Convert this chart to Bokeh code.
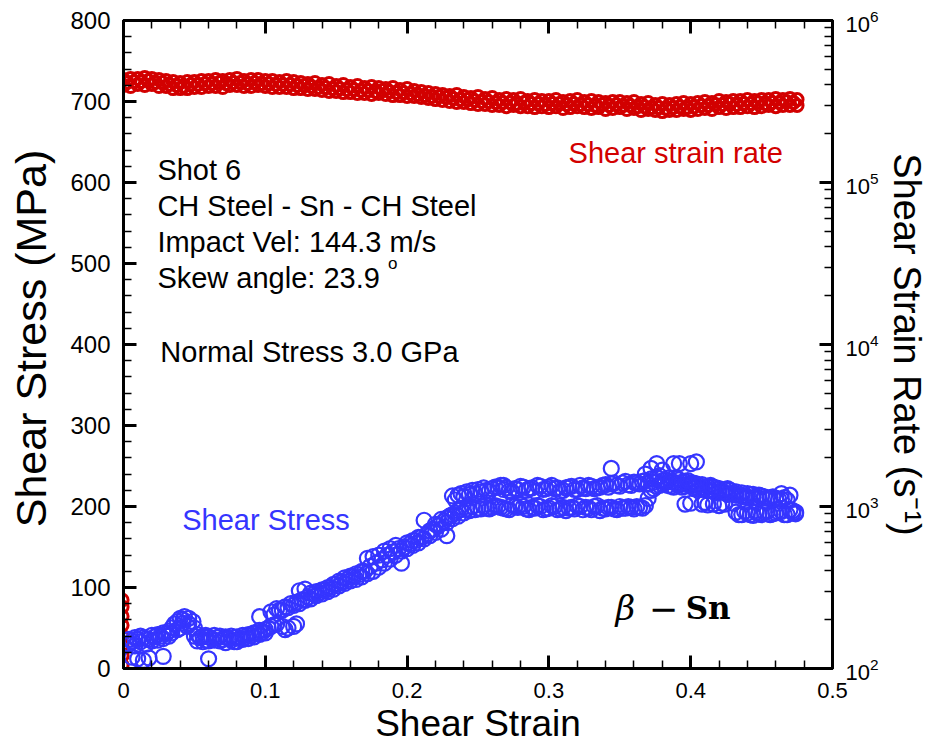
import math
from bokeh.plotting import figure
from bokeh.models import (Range1d, LogScale, LinearAxis, LogAxis, SingleIntervalTicker,
                          LogTicker, Label, CustomJSTickFormatter)
from bokeh.embed import file_html
from bokeh.resources import INLINE

# ---------------- data ----------------
# Shear stress (MPa) vs shear strain (blue circles)
SS_STRAIN = [
    0.004, 0.004, 0.008, 0.008, 0.012, 0.012, 0.016, 0.016, 0.020, 0.020,
    0.024, 0.024, 0.028, 0.028, 0.032, 0.032,
    0.006, 0.010, 0.014, 0.018, 0.028, 0.060,
    0.036, 0.040, 0.043, 0.046, 0.049, 0.040, 0.045,
    0.052, 0.052, 0.056, 0.056, 0.060, 0.060, 0.064, 0.064, 0.068, 0.068,
    0.072, 0.072, 0.076, 0.076, 0.080, 0.080, 0.084, 0.084, 0.088, 0.088,
    0.092, 0.092, 0.096, 0.096, 0.100, 0.100, 0.096,
    0.104, 0.104, 0.108, 0.108, 0.112, 0.112, 0.116, 0.116, 0.120, 0.120,
    0.124, 0.124, 0.128, 0.128, 0.132, 0.132, 0.136, 0.136, 0.140, 0.140,
    0.144, 0.144, 0.148, 0.148, 0.152, 0.152, 0.156, 0.156, 0.160, 0.160,
    0.164, 0.164, 0.168, 0.168, 0.172, 0.172, 0.176, 0.176, 0.180, 0.180,
    0.184, 0.184, 0.188, 0.188, 0.192, 0.192, 0.196, 0.196, 0.200, 0.200,
    0.204, 0.204, 0.208, 0.208, 0.212, 0.212, 0.216, 0.216, 0.220, 0.220,
    0.224, 0.224, 0.228, 0.228, 0.228, 0.232, 0.232, 0.232, 0.236, 0.236, 0.236,
    0.240, 0.240, 0.244, 0.244, 0.248, 0.248, 0.252, 0.252, 0.256, 0.256,
    0.260, 0.260, 0.264, 0.264, 0.268, 0.268, 0.268, 0.272, 0.272, 0.276, 0.276,
    0.280, 0.280, 0.284, 0.284, 0.288, 0.288, 0.292, 0.292, 0.296, 0.296,
    0.300, 0.300, 0.304, 0.304, 0.308, 0.308, 0.312, 0.312, 0.316, 0.316,
    0.320, 0.320, 0.324, 0.324, 0.328, 0.328, 0.332, 0.332, 0.336, 0.336,
    0.340, 0.340, 0.344, 0.344, 0.344, 0.348, 0.348, 0.352, 0.352, 0.356, 0.356,
    0.360, 0.360, 0.364, 0.364, 0.368, 0.368, 0.368, 0.372, 0.372, 0.372,
    0.376, 0.376, 0.376, 0.380, 0.380, 0.380, 0.384, 0.384, 0.388, 0.388, 0.388,
    0.392, 0.392, 0.392, 0.396, 0.396, 0.396, 0.400, 0.400, 0.400, 0.400,
    0.404, 0.404, 0.404, 0.408, 0.408, 0.408, 0.412, 0.412, 0.412,
    0.416, 0.416, 0.416, 0.420, 0.420, 0.420, 0.424, 0.424, 0.424, 0.428, 0.428,
    0.432, 0.432, 0.432, 0.436, 0.436, 0.436, 0.440, 0.440, 0.440,
    0.444, 0.444, 0.444, 0.448, 0.448, 0.448, 0.452, 0.452, 0.456, 0.456,
    0.460, 0.460, 0.464, 0.464, 0.464, 0.468, 0.468, 0.472, 0.472,
]
SS_STRESS = [
    36, 30, 38, 28, 40, 33, 37, 30, 41, 34,
    42, 35, 44, 37, 46, 40,
    14, 12, 10, 13, 15, 12,
    55, 62, 64, 62, 58, 50, 52,
    42, 34, 40, 33, 39, 34, 41, 35, 40, 34,
    39, 32, 40, 35, 39, 33, 41, 36, 42, 37,
    44, 39, 47, 42, 48, 44, 64,
    52, 70, 55, 74, 72, 52, 75, 50, 78, 52,
    80, 96, 84, 98, 86, 93, 90, 95, 92, 97,
    95, 100, 98, 104, 102, 108, 105, 112, 108, 114,
    110, 117, 113, 120, 117, 136, 120, 138, 125, 140,
    130, 145, 135, 148, 140, 152, 145, 130, 148, 155,
    152, 158, 155, 162, 160, 183, 164, 170, 168, 178,
    172, 184, 180, 186, 164, 185, 190, 213, 188, 195, 214,
    192, 212, 195, 215, 196, 216, 197, 218, 198, 220,
    199, 222, 200, 224, 198, 221, 226, 196, 219, 200, 222,
    202, 225, 197, 220, 199, 223, 201, 226, 196, 221,
    198, 224, 200, 222, 197, 219, 195, 223, 199, 225,
    201, 221, 196, 223, 198, 226, 200, 222, 195, 224,
    197, 227, 199, 228, 247, 196, 226, 198, 229, 200, 227,
    197, 230, 199, 228, 201, 232, 240, 220, 234, 247,
    225, 236, 253, 228, 232, 245, 226, 235, 224, 230, 253,
    227, 233, 253, 225, 231, 203, 226, 229, 253, 204,
    224, 228, 255, 222, 227, 203, 220, 225, 202,
    219, 224, 203, 218, 222, 201, 217, 221, 203, 216, 220,
    214, 218, 193, 213, 217, 190, 212, 216, 192,
    211, 215, 189, 210, 214, 191, 212, 193, 211, 190,
    210, 192, 209, 216, 194, 208, 190, 195, 192,
]
# second pass of shear-stress readings (between the first ones), rise part
SS2_STRAIN = [
    0.006, 0.010, 0.014, 0.018, 0.022, 0.026, 0.030,
    0.034, 0.034, 0.038, 0.038, 0.042, 0.042, 0.046, 0.050, 0.050,
    0.054, 0.058, 0.058, 0.062, 0.066, 0.070, 0.074, 0.078, 0.078,
    0.082, 0.086, 0.090, 0.094, 0.098, 0.102, 0.106, 0.106, 0.110,
    0.114, 0.114, 0.118, 0.122, 0.122, 0.126, 0.130, 0.134, 0.138,
    0.142, 0.146, 0.150, 0.154, 0.158, 0.162, 0.166, 0.170, 0.174,
    0.178, 0.182, 0.186, 0.190, 0.194, 0.198, 0.202, 0.206, 0.210,
    0.214, 0.218, 0.222, 0.226, 0.230,
]
SS2_STRESS = [
    34, 36, 38, 36, 39, 40, 43,
    50, 44, 58, 48, 60, 56, 55, 50, 40,
    38, 41, 35, 37, 38, 36, 37, 38, 33,
    37, 39, 41, 43, 45, 50, 66, 54, 72,
    76, 48, 80, 82, 55, 85, 88, 92, 94,
    97, 100, 104, 107, 110, 113, 116, 120, 126,
    130, 134, 140, 144, 148, 150, 154, 158, 162,
    166, 172, 176, 182, 188,
]
# second pass, plateau part: two readings per strain
SS3_STRAIN = [
    0.234, 0.238, 0.242, 0.246, 0.250, 0.254, 0.258, 0.262, 0.266, 0.270,
    0.274, 0.278, 0.282, 0.286, 0.290, 0.294, 0.298, 0.302, 0.306, 0.310,
    0.314, 0.318, 0.322, 0.326, 0.330, 0.334, 0.338, 0.342, 0.346, 0.350,
    0.354, 0.358, 0.362, 0.366, 0.370, 0.374, 0.378, 0.382, 0.386, 0.390,
    0.394, 0.398, 0.402, 0.406, 0.410, 0.414, 0.418, 0.422, 0.426, 0.430,
    0.434, 0.438, 0.442, 0.446, 0.450, 0.454, 0.458, 0.462, 0.466, 0.470,
    0.474,
]
SS3_STRESS_A = [
    192, 196, 197, 200, 198, 200, 197, 201, 199, 197,
    202, 199, 200, 196, 198, 200, 197, 201, 196, 199,
    198, 197, 200, 199, 196, 201, 198, 199, 197, 200,
    198, 199, 200, 198, 210, 222, 226, 229, 225, 228,
    224, 227, 223, 221, 223, 220, 217, 219, 215, 217,
    214, 212, 215, 211, 213, 210, 212, 209, 211, 214,
    193,
]
SS3_STRESS_B = [
    208, 216, 218, 220, 221, 223, 219, 224, 226, 223,
    218, 221, 224, 222, 219, 225, 222, 226, 223, 220,
    224, 221, 226, 222, 225, 223, 226, 224, 229, 225,
    231, 226, 229, 231, 228, 230, 238, 233, 231, 234,
    230, 232, 229, 226, 205, 226, 223, 204, 222, 204,
    190, 194, 190, 193, 190, 194, 191, 193, 190, 196,
    191,
]

# Shear strain rate (units of 1e5 s^-1) vs shear strain (red circles, right log axis)
SR_STRAIN = [
    0.000, 0.005, 0.010, 0.015, 0.020, 0.025, 0.030, 0.035, 0.040, 0.045,
    0.050, 0.055, 0.060, 0.065, 0.070, 0.075, 0.080, 0.085, 0.090, 0.095,
    0.100, 0.105, 0.110, 0.115, 0.120, 0.125, 0.130, 0.135, 0.140, 0.145,
    0.150, 0.155, 0.160, 0.165, 0.170, 0.175, 0.180, 0.185, 0.190, 0.195,
    0.200, 0.205, 0.210, 0.215, 0.220, 0.225, 0.230, 0.235, 0.240, 0.245,
    0.250, 0.255, 0.260, 0.265, 0.270, 0.275, 0.280, 0.285, 0.290, 0.295,
    0.300, 0.305, 0.310, 0.315, 0.320, 0.325, 0.330, 0.335, 0.340, 0.345,
    0.350, 0.355, 0.360, 0.365, 0.370, 0.375, 0.380, 0.385, 0.390, 0.395,
    0.400, 0.405, 0.410, 0.415, 0.420, 0.425, 0.430, 0.435, 0.440, 0.445,
    0.450, 0.455, 0.460, 0.465, 0.470, 0.475,
]
SR_UPPER_E5 = [
    4.32, 4.39, 4.39, 4.45, 4.39, 4.32, 4.26, 4.20, 4.14, 4.20,
    4.20, 4.26, 4.26, 4.32, 4.26, 4.32, 4.39, 4.26, 4.32, 4.32,
    4.26, 4.26, 4.20, 4.26, 4.20, 4.14, 4.08, 4.14, 4.03, 4.08,
    3.97, 4.03, 3.91, 3.97, 3.86, 3.91, 3.86, 3.80, 3.86, 3.75,
    3.80, 3.70, 3.65, 3.59, 3.54, 3.49, 3.44, 3.49, 3.40, 3.35,
    3.40, 3.30, 3.35, 3.25, 3.30, 3.25, 3.30, 3.21, 3.25, 3.21,
    3.21, 3.25, 3.16, 3.21, 3.25, 3.16, 3.21, 3.16, 3.12, 3.16,
    3.16, 3.12, 3.16, 3.07, 3.12, 3.03, 3.07, 3.03, 3.07, 3.12,
    3.07, 3.12, 3.16, 3.12, 3.21, 3.16, 3.21, 3.21, 3.25, 3.21,
    3.25, 3.25, 3.30, 3.25, 3.30, 3.25,
]
SR_LOWER_E5 = [
    3.97, 3.91, 4.03, 3.97, 4.03, 3.91, 3.91, 3.80, 3.80, 3.80,
    3.86, 3.86, 3.91, 3.91, 3.86, 3.97, 3.97, 3.91, 3.91, 3.97,
    3.91, 3.86, 3.86, 3.86, 3.80, 3.80, 3.75, 3.75, 3.70, 3.65,
    3.65, 3.59, 3.59, 3.54, 3.54, 3.49, 3.54, 3.49, 3.44, 3.44,
    3.40, 3.40, 3.35, 3.30, 3.25, 3.21, 3.16, 3.12, 3.12, 3.07,
    3.03, 3.03, 2.99, 2.99, 2.94, 2.99, 2.94, 2.94, 2.90, 2.94,
    2.90, 2.94, 2.86, 2.90, 2.94, 2.90, 2.86, 2.90, 2.82, 2.86,
    2.90, 2.82, 2.86, 2.78, 2.82, 2.78, 2.74, 2.78, 2.78, 2.82,
    2.78, 2.82, 2.86, 2.82, 2.90, 2.86, 2.90, 2.90, 2.94, 2.90,
    2.94, 2.99, 2.94, 2.99, 2.99, 2.99,
]
SR_MID_STRAIN = [
    0.0025, 0.0075, 0.0125, 0.0175, 0.0225, 0.0275, 0.0325, 0.0375, 0.0425, 0.0475,
    0.0525, 0.0575, 0.0625, 0.0675, 0.0725, 0.0775, 0.0825, 0.0875, 0.0925, 0.0975,
    0.1025, 0.1075, 0.1125, 0.1175, 0.1225, 0.1275, 0.1325, 0.1375, 0.1425, 0.1475,
    0.1525, 0.1575, 0.1625, 0.1675, 0.1725, 0.1775, 0.1825, 0.1875, 0.1925, 0.1975,
    0.2025, 0.2075, 0.2125, 0.2175, 0.2225, 0.2275, 0.2325, 0.2375, 0.2425, 0.2475,
    0.2525, 0.2575, 0.2625, 0.2675, 0.2725, 0.2775, 0.2825, 0.2875, 0.2925, 0.2975,
    0.3025, 0.3075, 0.3125, 0.3175, 0.3225, 0.3275, 0.3325, 0.3375, 0.3425, 0.3475,
    0.3525, 0.3575, 0.3625, 0.3675, 0.3725, 0.3775, 0.3825, 0.3875, 0.3925, 0.3975,
    0.4025, 0.4075, 0.4125, 0.4175, 0.4225, 0.4275, 0.4325, 0.4375, 0.4425, 0.4475,
    0.4525, 0.4575, 0.4625, 0.4675, 0.4725,
]
SR_MID_E5 = [
    4.14, 4.20, 4.20, 4.26, 4.14, 4.14, 4.03, 3.97, 3.91, 4.03,
    4.03, 4.08, 4.08, 4.14, 4.08, 4.14, 4.14, 4.08, 4.14, 4.08,
    4.08, 4.03, 4.03, 4.03, 3.97, 3.97, 3.91, 3.86, 3.86, 3.80,
    3.80, 3.75, 3.75, 3.70, 3.70, 3.65, 3.70, 3.65, 3.59, 3.59,
    3.54, 3.49, 3.44, 3.40, 3.40, 3.35, 3.30, 3.25, 3.25, 3.21,
    3.16, 3.16, 3.12, 3.12, 3.12, 3.07, 3.12, 3.07, 3.07, 3.03,
    3.07, 3.07, 3.03, 3.07, 3.03, 3.03, 2.99, 3.03, 2.99, 3.03,
    2.99, 2.99, 2.94, 2.94, 2.90, 2.90, 2.86, 2.90, 2.94, 2.90,
    2.94, 2.99, 2.99, 3.03, 3.03, 3.07, 3.03, 3.07, 3.07, 3.12,
    3.07, 3.12, 3.12, 3.16, 3.12,
]
# initial rise of strain rate right at zero strain
SR0_STRAIN = [-0.001, -0.001, -0.001, -0.001, -0.001, -0.001, -0.001, -0.001]
SR0_RATE = [105, 120, 140, 160, 185, 210, 240, 265]

X_TICK_STEP = 0.1
Y_TICK_STEP = 100

BLUE = "#3535ff"
RED = "#d20000"
FONT = "Liberation Sans"
MATH_FONT = "DejaVu Serif"

# ---------------- figure ----------------
p = figure(width=930, height=751, output_backend="svg", toolbar_location=None,
           x_range=Range1d(0, 0.5), y_range=Range1d(0, 800),
           x_axis_location=None, y_axis_location=None,
           min_border_left=123, min_border_right=95, min_border_top=20,
           min_border_bottom=83)
p.extra_y_ranges = {"rate": Range1d(1e2, 1e6)}
p.extra_y_scales = {"rate": LogScale()}
p.xgrid.visible = False
p.ygrid.visible = False
p.outline_line_color = "black"
p.outline_line_width = 3
p.background_fill_color = "white"
p.border_fill_color = "white"


def style_axis(ax, size="22px"):
    ax.axis_line_width = 3
    ax.axis_line_color = "black"
    ax.major_tick_in = 13
    ax.major_tick_out = 0
    ax.minor_tick_in = 8
    ax.minor_tick_out = 0
    ax.major_tick_line_width = 3
    ax.minor_tick_line_width = 1.5
    ax.major_label_text_font = FONT
    ax.major_label_text_color = "black"
    ax.major_label_text_font_size = size
    ax.axis_label_text_font = FONT
    ax.axis_label_text_font_style = "normal"
    ax.axis_label_text_color = "black"


xfmt = CustomJSTickFormatter(code="return Math.abs(tick) < 1e-9 ? '0' : tick.toFixed(1);")
xb = LinearAxis(ticker=SingleIntervalTicker(interval=X_TICK_STEP, num_minor_ticks=5),
                formatter=xfmt, axis_label="Shear Strain")
style_axis(xb)
xb.major_label_standoff = 14
xb.axis_label_standoff = 2
xb.axis_label_text_font_size = "37px"
p.add_layout(xb, "below")

xt = LinearAxis(ticker=SingleIntervalTicker(interval=X_TICK_STEP, num_minor_ticks=5),
                formatter=CustomJSTickFormatter(code="return '';"))
style_axis(xt, size="1px")
xt.major_label_standoff = 0
p.add_layout(xt, "above")

yl = LinearAxis(ticker=SingleIntervalTicker(interval=Y_TICK_STEP, num_minor_ticks=5),
                axis_label="\u00a0Shear Stress (MPa)")
style_axis(yl, size="24px")
yl.major_label_standoff = 13
yl.axis_label_standoff = 12
yl.axis_label_text_font_size = "43px"
p.add_layout(yl, "left")

yr = LogAxis(y_range_name="rate", ticker=LogTicker(num_minor_ticks=10),
             axis_label="Shear Strain Rate (s\u207b\u00b9)")
style_axis(yr)
yr.major_label_standoff = 13
yr.axis_label_standoff = 4
yr.axis_label_text_font_size = "38px"
p.add_layout(yr, "right")

# ---------------- data marks ----------------
for ys_e5, xs in ((SR_UPPER_E5, SR_STRAIN), (SR_LOWER_E5, SR_STRAIN), (SR_MID_E5, SR_MID_STRAIN)):
    p.scatter(xs, [v * 1e5 for v in ys_e5], marker="circle", size=12,
              fill_color=None, line_color=RED, line_width=3, y_range_name="rate")
p.scatter(SR0_STRAIN, SR0_RATE, marker="circle", size=12,
          fill_color=None, line_color=RED, line_width=3, y_range_name="rate")

for xs, ys in ((SS_STRAIN, SS_STRESS), (SS2_STRAIN, SS2_STRESS),
               (SS3_STRAIN, SS3_STRESS_A), (SS3_STRAIN, SS3_STRESS_B)):
    p.scatter(xs, ys, marker="circle", size=15,
              fill_color=None, line_color=BLUE, line_width=2.2)

# ---------------- texts ----------------
def add_label(text, x, y, size="29px", color="black", font=FONT, style="normal"):
    p.add_layout(Label(x=x, y=y, text=text, text_font=font, text_font_size=size,
                       text_color=color, text_font_style=style, text_align="left",
                       text_baseline="alphabetic"))


add_label("Shot 6", 0.0239, 615)
add_label("CH Steel - Sn - CH Steel", 0.0239, 571)
add_label("Impact Vel: 144.3 m/s", 0.0239, 526)
add_label("Skew angle: 23.9", 0.0239, 482)
add_label("o", 0.1865, 500, size="17px")
add_label("Normal Stress 3.0 GPa", 0.026, 391)
add_label("Shear Stress", 0.0414, 183, color=BLUE)
add_label("Shear strain rate", 0.3139, 636, color=RED)

add_label("\u03b2", 0.347, 75, size="34px", font=MATH_FONT, style="italic")
add_label("\u2212", 0.3705, 75, size="35px", font=MATH_FONT)
add_label("Sn", 0.3965, 75, size="31px", font=MATH_FONT, style="bold")

open("out.html", "w").write(file_html(p, INLINE))
